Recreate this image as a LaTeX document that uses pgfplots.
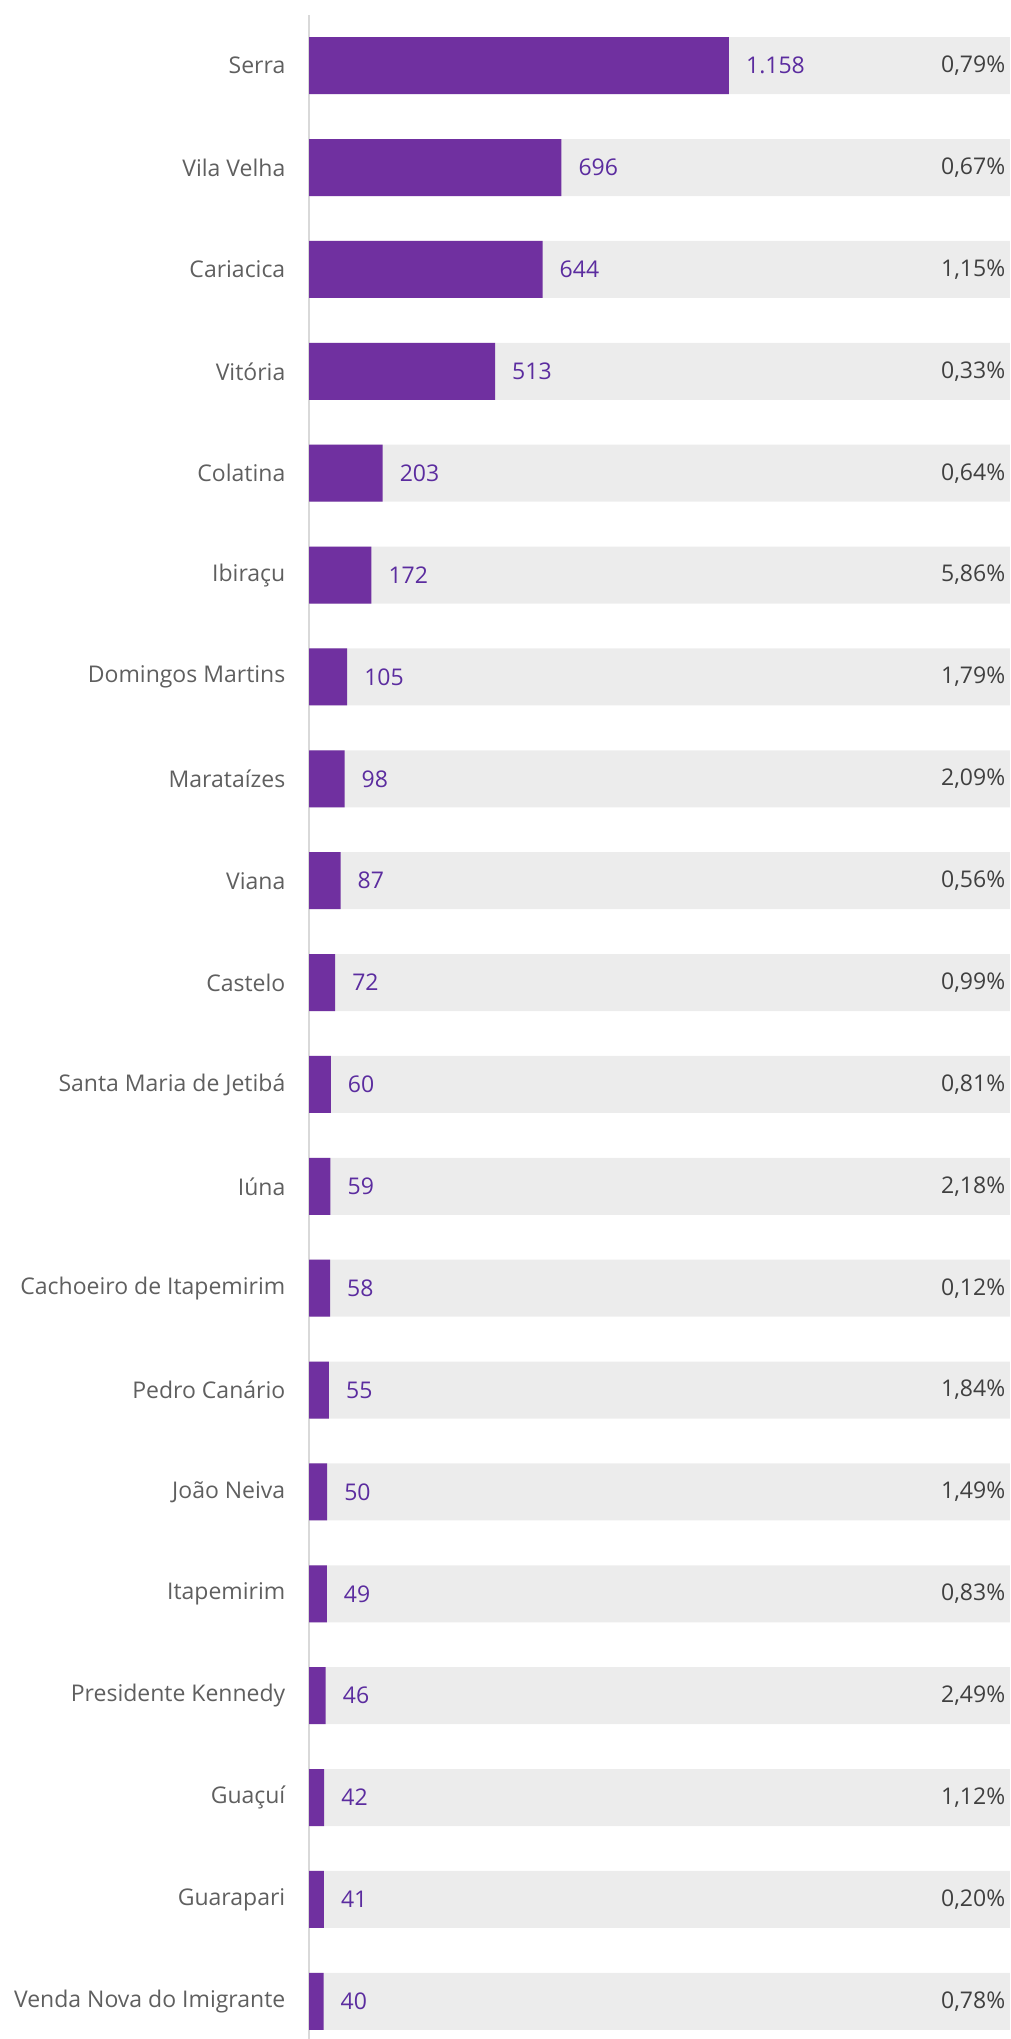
\documentclass[border=0pt]{standalone}
\usepackage{pgfplots}
\usepackage{pgfplotstable}
\pgfplotsset{compat=1.18}
\usepackage{fontspec}
\setmainfont{Open Sans}
\definecolor{barpurple}{HTML}{7030A0}
\definecolor{bggrey}{HTML}{ECECEC}
\definecolor{valpurple}{HTML}{5B2C9F}
\definecolor{catgrey}{HTML}{5F5F5F}
\definecolor{pctgrey}{HTML}{404040}
\definecolor{axgrey}{HTML}{D9D9D9}
\pgfplotstableread[col sep=semicolon]{
idx;name;val;lab;pct;full
0;Serra;1158;1.158;0,79;1933
1;Vila Velha;696;696;0,67;1933
2;Cariacica;644;644;1,15;1933
3;Vitória;513;513;0,33;1933
4;Colatina;203;203;0,64;1933
5;Ibiraçu;172;172;5,86;1933
6;Domingos Martins;105;105;1,79;1933
7;Marataízes;98;98;2,09;1933
8;Viana;87;87;0,56;1933
9;Castelo;72;72;0,99;1933
10;Santa Maria de Jetibá;60;60;0,81;1933
11;Iúna;59;59;2,18;1933
12;Cachoeiro de Itapemirim;58;58;0,12;1933
13;Pedro Canário;55;55;1,84;1933
14;João Neiva;50;50;1,49;1933
15;Itapemirim;49;49;0,83;1933
16;Presidente Kennedy;46;46;2,49;1933
17;Guaçuí;42;42;1,12;1933
18;Guarapari;41;41;0,20;1933
19;Venda Nova do Imigrante;40;40;0,78;1933
}\data
\begin{document}
\begin{tikzpicture}
\path[use as bounding box] (0pt,0pt) rectangle (1011pt,2039pt);
\begin{axis}[
  at={(309pt,0pt)}, anchor=south west,
  scale only axis, width=702pt, height=2024pt,
  xmin=0, xmax=1936, ymin=-0.498, ymax=19.370,
  y dir=reverse,
  axis x line=none,
  axis y line=left,
  y axis line style={-, draw=axgrey, line width=2pt},
  ytick={0,...,19},
  yticklabels from table={\data}{name},
  major tick length=0pt,
  xtick=\empty,
  /pgf/number format/assume math mode=true,
  yticklabel style={font=\fontsize{23}{28}\selectfont, color=catgrey, inner sep=0pt, xshift=-23.5pt},
  clip=false,
]
\addplot[xbar, bar width=57pt, bar shift=0pt, fill=bggrey, draw=none,
  point meta=explicit symbolic,
  nodes near coords={\pgfplotspointmeta\%},
  every node near coord/.append style={anchor=east, xshift=-4.5pt, inner sep=0pt,
    font=\fontsize{23}{28}\selectfont, color=pctgrey}]
  table[x=full, y=idx, meta=pct]{\data};
\addplot[xbar, bar width=57pt, bar shift=0pt, fill=barpurple, draw=none,
  point meta=explicit symbolic,
  nodes near coords,
  every node near coord/.append style={anchor=west, xshift=17pt, inner sep=0pt,
    font=\fontsize{23}{28}\selectfont, color=valpurple}]
  table[x=val, y=idx, meta=lab]{\data};
\end{axis}
\end{tikzpicture}
\end{document}
